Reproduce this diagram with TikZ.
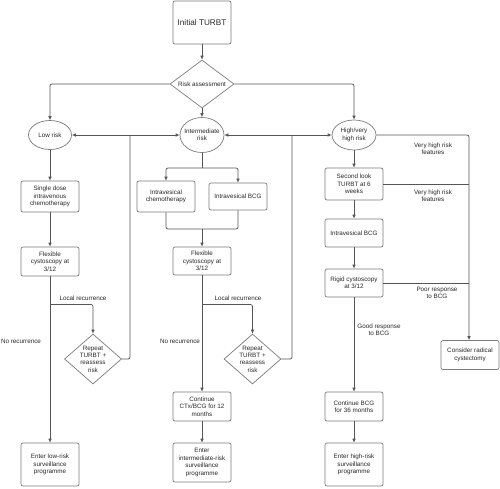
\documentclass[tikz,border=0pt]{standalone}
\usepackage{fontspec}
\setmainfont{Liberation Sans}
\usetikzlibrary{arrows.meta,shapes.geometric}
\definecolor{ln}{HTML}{555555}
\definecolor{bd}{HTML}{7A7A7A}
\tikzset{
  every node/.style={font=\fontsize{6.3}{7.4}\selectfont, align=center, text=black!85},
  box/.style={draw=bd, line width=0.7pt, rounded corners=2pt, minimum width=58pt, inner sep=1pt},
  ell/.style={draw=bd, line width=0.7pt, ellipse, inner sep=0pt},
  dia/.style={draw=bd, line width=0.7pt, diamond, inner sep=0pt},
  con/.style={draw=ln, line width=0.7pt, rounded corners=2pt},
  arr/.style={con, -{Latex[length=4pt,width=3.6pt]}},
  lab/.style={inner sep=0pt},
}
\begin{document}
\begin{tikzpicture}[x=1pt,y=-1pt]
\useasboundingbox (0,0) rectangle (500,488);
% top
\node[box, minimum height=43pt, font=\fontsize{8.2}{9.5}\selectfont] (turbt) at (202,22.5) {Initial TURBT};
\node[dia, minimum width=64pt, minimum height=48pt] (risk) at (202,84) {};
\node[lab] (riskT) at (risk) {Risk assessment};
% ellipses
\node[ell, minimum width=43pt, minimum height=29pt] (low) at (50,135) {};
\node[lab] (lowT) at (low) {Low risk};
\node[ell, minimum width=44pt, minimum height=35pt] (int) at (202,135) {};
\node[lab] (intT) at (int) {Intermediate\\risk};
\node[ell, minimum width=44pt, minimum height=30pt] (high) at (354,135) {};
\node[lab] (highT) at (high) {High/very\\high risk};
% low column
\node[box, minimum height=31pt] (single) at (50,196.5) {Single dose\\intravenous\\chemotherapy};
\node[box, minimum height=29pt] (flex1) at (50,261.5) {Flexible\\cystoscopy at\\3/12};
\node[dia, minimum width=57pt, minimum height=50pt] (rep1) at (93,359) {};
\node[lab] (rep1T) at (rep1) {Repeat\\TURBT +\\reassess\\risk};
\node[box, minimum height=43pt] (enter1) at (50,464.5) {Enter low-risk\\surveillance\\programme};
% intermediate column
\node[box, minimum height=31pt] (ichemo) at (166,196.5) {Intravesical\\chemotherapy};
\node[box, minimum height=27pt] (ibcg) at (238,196.5) {Intravesical BCG};
\node[box, minimum height=28pt] (flex2) at (202,261) {Flexible\\cystoscopy at\\3/12};
\node[dia, minimum width=57pt, minimum height=50pt] (rep2) at (252.5,359) {};
\node[lab] (rep2T) at (rep2) {Repeat\\TURBT +\\reassess\\risk};
\node[box, minimum height=29pt] (cont2) at (202,406.5) {Continue\\CTx/BCG for 12\\months};
\node[box, minimum height=39pt] (enter2) at (202,462.5) {Enter\\intermediate-risk\\surveillance\\programme};
% high column
\node[box, minimum height=32pt] (second) at (354,184) {Second look\\TURBT at 6\\weeks};
\node[box, minimum height=28pt] (hbcg) at (354,233) {Intravesical BCG};
\node[box, minimum height=28pt] (rigid) at (354,283) {Rigid cystoscopy\\at 3/12};
\node[box, minimum height=29pt] (cont3) at (354,406.5) {Continue BCG\\for 36 months};
\node[box, minimum height=43pt] (enter3) at (354,464.5) {Enter high-risk\\surveillance\\programme};
\node[box, minimum height=29pt] (cyst) at (470,355) {Consider radical\\cystectomy};
% coordinates
\coordinate (b1) at (50,304.5);
\coordinate (j1) at (130,135);
\coordinate (s1) at (202,168);
\coordinate (m1) at (202,229);
\coordinate (b2) at (202,304.5);
\coordinate (j2) at (292,135);
\coordinate (r1) at (469,135);
% connectors
\draw[arr] (turbt) -- (risk);
\draw[arr] (risk.west) -| (low.north);
\draw[arr] (risk.east) -| (high.north);
\draw[arr] (risk) -- (int);
\draw[arr] (low) -- (single);
\draw[arr] (single) -- (flex1);
\draw[arr] (flex1) -- (enter1);
\draw[arr] (b1) -| (rep1.north);
\draw[con] (rep1.east) -| (j1);
\draw[arr] (j1) -- (low.east);
\draw[arr] (j1) -- (int.west);
\draw[con] (int) -- (s1);
\draw[arr] (s1) -| (ichemo.north);
\draw[arr] (s1) -| (ibcg.north);
\draw[con] (ichemo.south) |- (m1) -| (ibcg.south);
\draw[arr] (m1) -- (flex2);
\draw[arr] (flex2) -- (cont2);
\draw[arr] (b2) -| (rep2.north);
\draw[con] (rep2.east) -| (j2);
\draw[arr] (j2) -- (int.east);
\draw[arr] (j2) -- (high.west);
\draw[arr] (cont2) -- (enter2);
\draw[arr] (high) -- (second);
\draw[arr] (second) -- (hbcg);
\draw[arr] (hbcg) -- (rigid);
\draw[arr] (rigid) -- (cont3);
\draw[arr] (cont3) -- (enter3);
\draw[arr] (high.east) -- (r1) -- (cyst.north -| r1);
\draw[con] (second.east) -- (second.east -| r1);
\draw[con] (rigid.east) -- (rigid.east -| r1);
% labels
\node[lab] (l1) at (83,298) {Local recurrence};
\node[lab] (l2) at (238,298) {Local recurrence};
\node[lab] (n1) at (21,341) {No recurrence};
\node[lab] (n2) at (180,341) {No recurrence};
\node[lab] (v1) at (433,149) {Very high risk\\features};
\node[lab] (v2) at (433,196) {Very high risk\\features};
\node[lab] (p1) at (437,293) {Poor response\\to BCG};
\node[lab] (g1) at (379,330) {Good response\\to BCG};
\end{tikzpicture}
\end{document}
